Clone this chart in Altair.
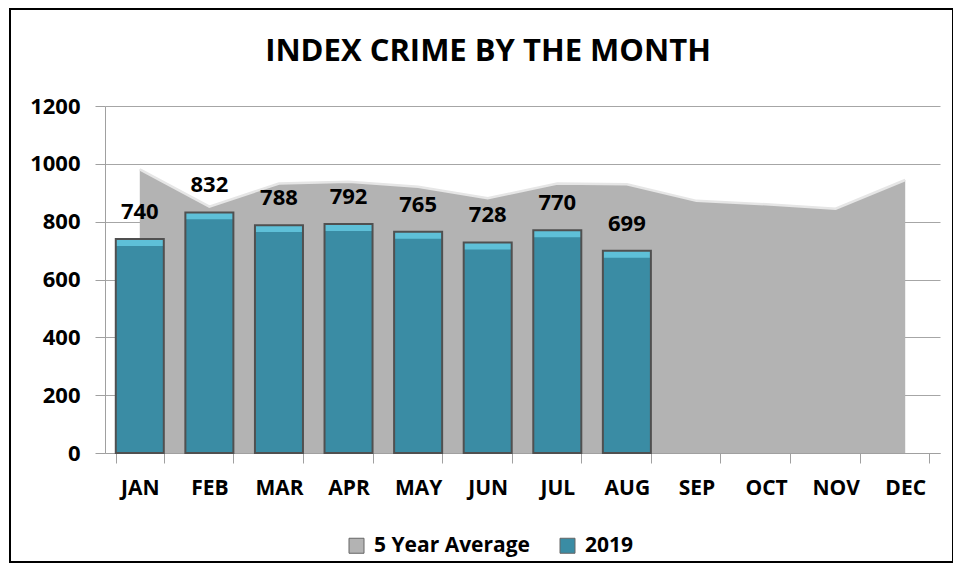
import altair as alt
import pandas as pd

months = ["JAN", "FEB", "MAR", "APR", "MAY", "JUN", "JUL", "AUG", "SEP", "OCT", "NOV", "DEC"]
avg5 = [981, 852, 932, 938, 921, 881, 932, 929, 872, 860, 845, 944]
y2019 = [740, 832, 788, 792, 765, 728, 770, 699]
series = ["5 Year Average", "2019"]
colors = ["#b3b3b3", "#3a8ca4"]
title_text = ["INDEX CRIME BY THE MONTH"]

df_avg = pd.DataFrame({"month": months, "value": avg5, "series": series[0]})
df_2019 = pd.DataFrame({"month": months[:len(y2019)], "value": y2019, "series": series[1]})
df_title = pd.DataFrame({"t": title_text})

FONT = "Open Sans"

x = alt.X("month:N", sort=months, title=None,
          scale=alt.Scale(paddingInner=0.31, paddingOuter=0.155),
          axis=alt.Axis(labelAngle=0, labelFont=FONT, labelFontSize=21, labelFontWeight="bold",
                        labelColor="black", tickBand="extent", tickSize=10, tickColor="#a0a0a0",
                        domainColor="#a0a0a0", labelPadding=14))
y = alt.Y("value:Q", title=None,
          scale=alt.Scale(domain=[0, 1200]),
          axis=alt.Axis(values=[0, 200, 400, 600, 800, 1000, 1200], format="d", labelFont=FONT,
                        labelFontSize=22, labelFontWeight="bold", labelColor="black", tickSize=10,
                        tickColor="#a0a0a0", domainColor="#a0a0a0", gridColor="#a6a6a6",
                        labelPadding=15))
color = alt.Color("series:N", scale=alt.Scale(domain=series, range=colors),
                  legend=alt.Legend(title=None, orient="none", legendX=241, legendY=429,
                                    direction="horizontal", symbolType="square", symbolSize=225,
                                    symbolStrokeColor="#666666", symbolStrokeWidth=1,
                                    labelFont=FONT, labelFontSize=21, labelFontWeight="bold",
                                    labelColor="black", columnPadding=27, symbolOffset=0,
                                    labelOffset=7, labelLimit=400))

border = alt.Chart(df_title).mark_rect(filled=False, stroke="black", strokeWidth=2).encode(
    x=alt.value(-95), x2=alt.value(848), y=alt.value(-97), y2=alt.value(456))

title = alt.Chart(df_title).mark_text(font=FONT, fontSize=31, fontWeight="bold", color="black",
                                      baseline="middle", align="center").encode(
    x=alt.value(383), y=alt.value(-54), text="t:N")

area = alt.Chart(df_avg).mark_area(opacity=1).encode(x=x, y=y, color=color)
edge = alt.Chart(df_avg).mark_line(color="#e6e6e6", strokeWidth=2.5).encode(x=x, y=y)

bars = alt.Chart(df_2019).mark_bar(strokeWidth=0).encode(x=x, y=y, color=color)
bevel = alt.Chart(df_2019).transform_calculate(top="datum.value - 24").mark_bar(
    color="#5ec0d8", strokeWidth=0).encode(
    x=x, y=alt.Y("value:Q"), y2="top:Q")
outline = alt.Chart(df_2019).mark_bar(filled=False, stroke="#505050", strokeWidth=2).encode(
    x=x, y=y)
labels = alt.Chart(df_2019).mark_text(dy=-15, baseline="bottom", font=FONT, fontSize=22,
                                      fontWeight="bold", color="black").encode(
    x=x, y="value:Q", text="value:Q")

chart = alt.layer(border, title, area, edge, bars, bevel, outline, labels).properties(
    width=835, height=347,
    autosize=alt.AutoSizeParams(type="none"),
    padding={"left": 97, "top": 98, "right": 13, "bottom": 113},
).configure_view(stroke=None).configure_axisY(gridWidth=1)

chart.save("out.html", embed_options={"renderer": "svg", "actions": False})
